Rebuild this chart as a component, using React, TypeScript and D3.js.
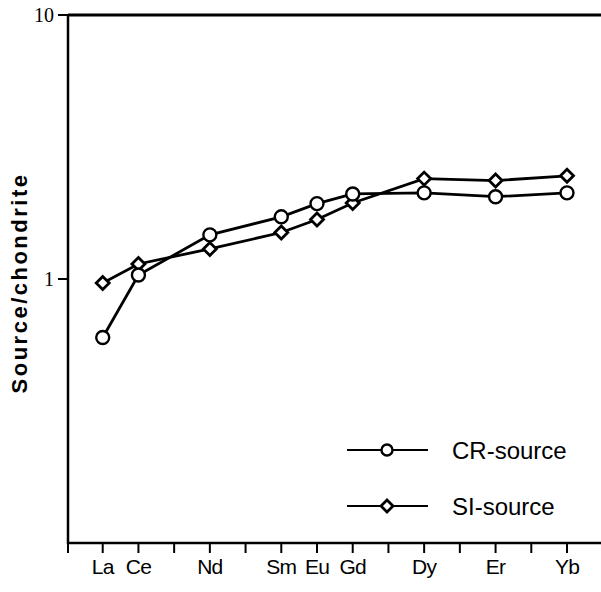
import React from 'react';
import { scaleLinear, scaleLog, line } from 'd3';

const width = 601;
const height = 592;
const margin = { top: 15, right: 0, bottom: 49, left: 68 };

// REE order (all slots get a tick, only some are labelled)
const elements = ['La', 'Ce', 'Pr', 'Nd', 'Pm', 'Sm', 'Eu', 'Gd', 'Tb', 'Dy', 'Ho', 'Er', 'Tm', 'Yb'];
const labelled = ['La', 'Ce', 'Nd', 'Sm', 'Eu', 'Gd', 'Dy', 'Er', 'Yb'];
const yTicks = [1, 10];

// series values
const crElements = ['La', 'Ce', 'Nd', 'Sm', 'Eu', 'Gd', 'Dy', 'Er', 'Yb'];
const crValues = [0.6, 1.035, 1.47, 1.72, 1.93, 2.1, 2.12, 2.05, 2.12];
const siElements = ['La', 'Ce', 'Nd', 'Sm', 'Eu', 'Gd', 'Dy', 'Er', 'Yb'];
const siValues = [0.965, 1.14, 1.3, 1.5, 1.68, 1.94, 2.4, 2.36, 2.46];

const legendItems = ['CR-source', 'SI-source'];

const App = () => {
  // x: element index -> pixel, first slot sits one step right of the axis
  const xScale = scaleLinear()
    .domain([-1, elements.length - 1])
    .range([margin.left - 1, 567]);
  const yScale = scaleLog()
    .domain([0.1, 10])
    .range([height - margin.bottom, margin.top]);

  const xOf = (el: string) => xScale(elements.indexOf(el));

  const lineFn = line<[number, number]>()
    .x(d => d[0])
    .y(d => d[1]);

  const crPts: [number, number][] = crElements.map((el, i) => [xOf(el), yScale(crValues[i])]);
  const siPts: [number, number][] = siElements.map((el, i) => [xOf(el), yScale(siValues[i])]);

  const diamond = (x: number, y: number, s: number) =>
    `M${x},${y - s}L${x + s},${y}L${x},${y + s}L${x - s},${y}Z`;

  const y0 = yScale(0.1);
  const y1 = yScale(10);

  return (
    <svg
      width={width}
      height={height}
      style={{ position: 'absolute', left: 0, top: 0, background: '#fff' }}
    >
      {/* frame: left axis, top line, bottom axis */}
      <line x1={margin.left} x2={margin.left} y1={y1 - 1} y2={y0 + 1} stroke="#000" strokeWidth={2.5} />
      <line x1={margin.left} x2={width} y1={y1} y2={y1} stroke="#000" strokeWidth={3} />
      <line x1={margin.left - 1} x2={width} y1={y0} y2={y0} stroke="#000" strokeWidth={2.5} />

      {/* x ticks */}
      <g>
        {elements.map((el, i) => (
          <line key={el} x1={xScale(i)} x2={xScale(i)} y1={y0} y2={y0 + 10} stroke="#000" strokeWidth={2} />
        ))}
        <line x1={margin.left} x2={margin.left} y1={y0} y2={y0 + 10} stroke="#000" strokeWidth={2} />
        {labelled.map(el => (
          <text
            key={el}
            x={xOf(el)}
            y={574}
            textAnchor="middle"
            fontFamily="'Liberation Sans', Arial, sans-serif"
            fontSize={21}
            letterSpacing={-0.8}
          >
            {el}
          </text>
        ))}
      </g>

      {/* y ticks */}
      <g>
        {yTicks.map(t => (
          <g key={t}>
            <line x1={margin.left - 10} x2={margin.left} y1={yScale(t)} y2={yScale(t)} stroke="#000" strokeWidth={2} />
            <text
              x={margin.left - 14}
              y={yScale(t) + 7}
              textAnchor="end"
              fontFamily="'Liberation Serif', 'Times New Roman', serif"
              fontSize={20}
            >
              {t}
            </text>
          </g>
        ))}
        <text
          transform={`translate(27, 283) rotate(-90)`}
          textAnchor="middle"
          fontFamily="'Liberation Sans', Arial, sans-serif"
          fontWeight="bold"
          fontSize={22}
          letterSpacing={2.5}
        >
          Source/chondrite
        </text>
      </g>

      {/* series lines */}
      <path d={lineFn(siPts) ?? ''} fill="none" stroke="#000" strokeWidth={2.8} />
      <path d={lineFn(crPts) ?? ''} fill="none" stroke="#000" strokeWidth={2.8} />

      {/* markers */}
      {siPts.map((p, i) => (
        <path key={'si' + i} d={diamond(p[0], p[1], 6.5)} fill="#fff" stroke="#000" strokeWidth={2.8} />
      ))}
      {crPts.map((p, i) => (
        <circle key={'cr' + i} cx={p[0]} cy={p[1]} r={6.5} fill="#fff" stroke="#000" strokeWidth={2.4} />
      ))}

      {/* legend */}
      <g>
        {legendItems.map((name, i) => {
          const ly = 450 + i * 56;
          return (
            <g key={name}>
              <line x1={347} x2={428} y1={ly} y2={ly} stroke="#000" strokeWidth={2.2} />
              {i === 0 ? (
                <circle cx={387} cy={ly} r={5.5} fill="#fff" stroke="#000" strokeWidth={2.4} />
              ) : (
                <path d={diamond(387, ly, 6)} fill="#fff" stroke="#000" strokeWidth={2.8} />
              )}
              <text
                x={452}
                y={ly + 9}
                fontFamily="'Liberation Sans', Arial, sans-serif"
                fontSize={24}
              >
                {name}
              </text>
            </g>
          );
        })}
      </g>
    </svg>
  );
};

export default App;
